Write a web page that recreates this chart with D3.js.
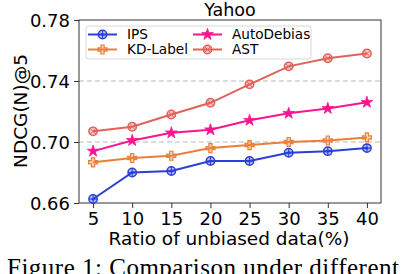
<!DOCTYPE html>
<html>
<head>
<meta charset="utf-8">
<script src="https://cdn.jsdelivr.net/npm/d3@7"></script>
<style>
  body { margin: 0; background: #fff; }
  svg { display: block; }
</style>
</head>
<body>
<svg id="chart"></svg>
<script>
const ratios = [5, 10, 15, 20, 25, 30, 35, 40];
const yTicks = [0.66, 0.70, 0.74, 0.78];
const gridTicks = [0.70, 0.74];
const ipsVals = [0.6626, 0.680, 0.681, 0.6875, 0.6875, 0.693, 0.694, 0.696];
const kdVals = [0.6867, 0.6895, 0.691, 0.696, 0.698, 0.700, 0.701, 0.703];
const autoVals = [0.694, 0.701, 0.706, 0.708, 0.7142, 0.7188, 0.722, 0.726];
const astVals = [0.707, 0.710, 0.718, 0.7257, 0.7378, 0.7496, 0.7549, 0.758];
const seriesNames = ["IPS", "KD-Label", "AutoDebias", "AST"];

function main() {
  const W = 402, H = 274;
  const m = {left: 79, right: 21, top: 20, bottom: 71};
  const font = "DejaVu Sans";

  const svg = d3.select("#chart").attr("width", W).attr("height", H);

  const x = d3.scaleLinear().domain([3.2, 41.8]).range([m.left, W - m.right]);
  const y = d3.scaleLinear().domain([0.66, 0.78]).range([H - m.bottom, m.top]);

  const series = [
    {name: seriesNames[0], vals: ipsVals, col: "#2b3fd6", mark: "circlePlus"},
    {name: seriesNames[1], vals: kdVals, col: "#e8803a", mark: "plus"},
    {name: seriesNames[2], vals: autoVals, col: "#f8158f", mark: "star"},
    {name: seriesNames[3], vals: astVals, col: "#e0625a", mark: "circleX"}
  ];

  // grid
  svg.append("g").selectAll("line")
    .data(gridTicks).enter()
    .append("line")
      .attr("x1", m.left).attr("x2", W - m.right)
      .attr("y1", d => y(d)).attr("y2", d => y(d))
      .attr("stroke", "#b8b8b8").attr("stroke-width", 1.2)
      .attr("stroke-dasharray", "5,3");

  // axes
  const xAxis = svg.append("g")
    .attr("transform", `translate(0,${H - m.bottom})`)
    .call(d3.axisBottom(x).tickValues(ratios).tickSize(5).tickPadding(4));
  const yAxis = svg.append("g")
    .attr("transform", `translate(${m.left},0)`)
    .call(d3.axisLeft(y).tickValues(yTicks).tickFormat(d3.format(".2f")).tickSize(5).tickPadding(4));
  [xAxis, yAxis].forEach(a => {
    a.select(".domain").remove();
    a.selectAll("text").attr("font-family", font).attr("font-size", 18).attr("fill", "#000");
    a.selectAll("line").attr("stroke", "#333");
  });
  xAxis.selectAll("text").attr("dy", "0.74em");
  yAxis.selectAll("text").attr("dy", "0.36em");

  // frame
  svg.append("rect")
    .attr("x", m.left).attr("y", m.top)
    .attr("width", W - m.left - m.right).attr("height", H - m.top - m.bottom)
    .attr("fill", "none").attr("stroke", "#333").attr("stroke-width", 1);

  const line = d3.line().x((d, i) => x(ratios[i])).y(d => y(d));

  function drawMarker(g, type, col) {
    if (type === "circlePlus" || type === "circleX") {
      g.append("circle").attr("r", 4.2).attr("fill", col).attr("fill-opacity", 0.35)
        .attr("stroke", col).attr("stroke-width", 1.5);
      const p = type === "circlePlus" ? [[-4, 0, 4, 0], [0, -4, 0, 4]] : [[-3, -3, 3, 3], [-3, 3, 3, -3]];
      p.forEach(l => g.append("line").attr("x1", l[0]).attr("y1", l[1]).attr("x2", l[2]).attr("y2", l[3])
        .attr("stroke", col).attr("stroke-width", 1));
      if (type === "circlePlus") g.append("circle").attr("r", 1.6).attr("fill", col);
    } else if (type === "plus") {
      g.append("path").attr("d", "M-1.6,-4.5H1.6V-1.6H4.5V1.6H1.6V4.5H-1.6V1.6H-4.5V-1.6H-1.6Z")
        .attr("fill", col).attr("fill-opacity", 0.35).attr("stroke", col).attr("stroke-width", 1.2);
    } else {
      g.append("path").attr("d", d3.symbol(d3.symbolStar, 42)())
        .attr("fill", col).attr("stroke", col).attr("stroke-width", 0.8);
    }
  }

  series.forEach(s => {
    svg.append("path").datum(s.vals)
      .attr("d", line).attr("fill", "none")
      .attr("stroke", s.col).attr("stroke-width", 2);
    s.vals.forEach((v, i) => {
      const g = svg.append("g").attr("transform", `translate(${x(ratios[i])},${y(v)})`);
      drawMarker(g, s.mark, s.col);
    });
  });

  // legend
  const leg = svg.append("g");
  leg.append("rect").attr("x", 86).attr("y", 26).attr("width", 225).attr("height", 33)
    .attr("rx", 3).attr("fill", "#fff").attr("fill-opacity", 0.8)
    .attr("stroke", "#d8d8d8").attr("stroke-width", 1);
  const legPos = [[88, 34.5], [88, 49.5], [193, 34.5], [193, 49.5]];
  series.forEach((s, i) => {
    const [lx, ly] = legPos[i];
    leg.append("line").attr("x1", lx).attr("x2", lx + 29).attr("y1", ly).attr("y2", ly)
      .attr("stroke", s.col).attr("stroke-width", 2);
    const g = leg.append("g").attr("transform", `translate(${lx + 14.5},${ly})`);
    drawMarker(g, s.mark, s.col);
    leg.append("text").attr("x", lx + 39).attr("y", ly).attr("dy", "0.36em")
      .attr("font-family", font).attr("font-size", 13.6).text(s.name);
  });

  // title and labels
  svg.append("text").attr("x", (m.left + W - m.right) / 2).attr("y", 16)
    .attr("text-anchor", "middle").attr("font-family", font).attr("font-size", 17.5).text("Yahoo");
  svg.append("text").attr("x", 229).attr("y", 245)
    .attr("text-anchor", "middle").attr("font-family", font).attr("font-size", 18.5)
    .text("Ratio of unbiased data(%)");
  svg.append("text").attr("transform", `translate(27,111) rotate(-90)`)
    .attr("text-anchor", "middle").attr("font-family", font).attr("font-size", 18.5)
    .text("NDCG(N)@5");

  // caption, cut off by the picture edge as in the source
  svg.append("text").attr("x", 7).attr("y", 275.5)
    .attr("font-family", "Liberation Serif").attr("font-size", 25)
    .attr("letter-spacing", 0.5)
    .text("Figure 1: Comparison under different");
}

window.addEventListener("load", main);
</script>
</body>
</html>
